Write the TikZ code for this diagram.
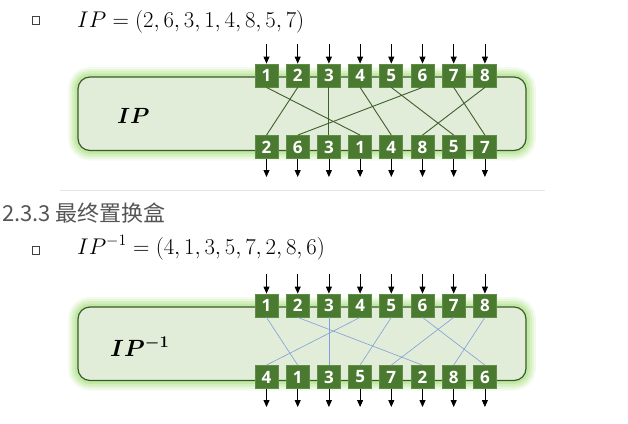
\RequirePackage{fix-cm}
\documentclass[tikz,border=0pt]{standalone}
\usepackage{amsmath}
\usepackage{bm}
\usepackage{fontspec}
\newfontfamily\cjkfont{Noto Sans CJK SC}
\newfontfamily\sqfont{Open Sans}
\usetikzlibrary{arrows.meta}
\definecolor{boxfill}{HTML}{E1EDD8}
\definecolor{boxline}{HTML}{3B5A29}
\definecolor{glow}{HTML}{96DA62}
\definecolor{sqfill}{HTML}{4A7A2F}
\definecolor{sqline}{HTML}{5F8E45}
\definecolor{wireA}{HTML}{3F5F2D}
\definecolor{wireB}{HTML}{7F9FD8}
\definecolor{headgray}{HTML}{555555}
\tikzset{
  sq/.style={draw=sqline, fill=sqfill, line width=0.8pt, minimum width=23pt, minimum height=23pt, inner sep=0pt,
    text=white, font=\sqfont\bfseries\fontsize{17}{17}\selectfont},
  arr/.style={-{Triangle[length=7pt,width=6pt]}, line width=0.8pt, black},
  bullet/.style={draw=black!75, line width=0.7pt, minimum size=7.5pt, inner sep=0pt},
  eqtext/.style={anchor=base west, inner sep=0pt, font=\fontsize{22.7}{26}\selectfont},
  permbox/.style={draw=boxline, fill=boxfill, line width=1.2pt, rounded corners=12pt},
}
% #1 prefix, #2 y offset, #3 bottom order, #4 wire style
\newcommand{\mypermdiagram}[4]{%
  \begin{scope}[shift={(0,#2)}]
    \foreach \w/\o in {20/0.10,16/0.14,12/0.2,7/0.3}
      \draw[glow, line width=\w pt, opacity=\o, rounded corners=12pt] (78,77) rectangle (526,150.5);
    \draw[permbox] (78,77) rectangle (526,150.5);
    \foreach \k in {1,...,8} {
      \node[sq] (#1t\k) at ({266.5+31.2*(\k-1)},75.5) {\k};
      \coordinate (#1ta\k) at ({266.5+31.2*(\k-1)},44);
      \draw[arr] (#1ta\k) -- (#1t\k.north);
    }
    \foreach \v [count=\k] in {#3} {
      \node[sq] (#1b\k) at ({266.5+31.2*(\k-1)},147) {\v};
      \coordinate (#1ba\k) at ({266.5+31.2*(\k-1)},177);
      \draw[arr] (#1b\k.south) -- (#1ba\k);
    }
    \foreach \v [count=\k] in {#3} {
      \draw[#4] (#1t\v.south) -- (#1b\k.north);
    }
  \end{scope}%
}
\begin{document}
\begin{tikzpicture}[x=1pt,y=-1pt]
\useasboundingbox (0,0) rectangle (628,423);
\fill[white] (0,0) rectangle (628,423);

% first section
\node[bullet] (bul1) at (35.8,20.5) {};
\node[eqtext] (eq1) at (77,27) {$IP=(2,6,3,1,4,8,5,7)$};
\mypermdiagram{A}{0}{2,6,3,1,4,8,5,7}{wireA, line width=0.9pt}
\node[anchor=base west, inner sep=0pt, font=\fontsize{22}{26}\selectfont] (labA) at (117,123) {$\bm{IP}$};

% separator
\coordinate (sepL) at (60,190);
\coordinate (sepR) at (545,190);
\draw[black!10, line width=1pt] (sepL) -- (sepR);

% heading
\node[anchor=base west, inner sep=0pt, text=headgray, font=\cjkfont\fontsize{22}{26}\selectfont] (head) at (2,221) {2.3.3 最终置换盒};

% second section
\node[bullet] (bul2) at (35.8,250.5) {};
\node[eqtext] (eq2) at (77,254) {$IP^{-1}=(4,1,3,5,7,2,8,6)$};
\mypermdiagram{B}{230}{4,1,3,5,7,2,8,6}{wireB, line width=0.6pt}
\node[anchor=base west, inner sep=0pt, font=\fontsize{23.5}{28}\selectfont] (labB) at (110,356.5) {$\bm{IP^{-1}}$};
\end{tikzpicture}
\end{document}
